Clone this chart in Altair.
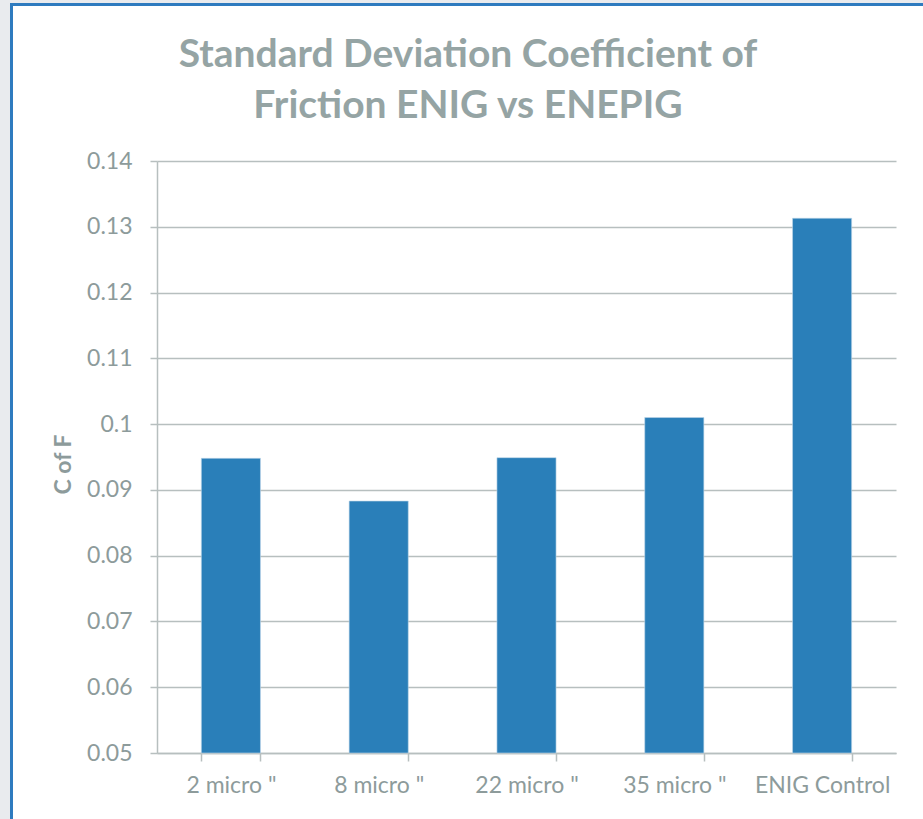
import altair as alt
import pandas as pd

# Categories and standard deviation of the coefficient of friction
categories = ['2 micro "', '8 micro "', '22 micro "', '35 micro "', "ENIG Control"]
std_cof = [0.0948, 0.0883, 0.0949, 0.1010, 0.1313]
y_ticks = [0.05, 0.06, 0.07, 0.08, 0.09, 0.10, 0.11, 0.12, 0.13, 0.14]
title_lines = ["Standard Deviation Coefficient of", "Friction ENIG vs ENEPIG"]
BASE = 0.05

df = pd.DataFrame({"category": categories, "value": std_cof, "base": BASE})

FONT = "Lato"
TEXT_GREY = "#8D9B9B"
TITLE_GREY = "#95A4A4"
LINE_GREY = "#B7BFBF"
BAR_BLUE = "#2A7FB9"
PAGE_GREY = "#E9EBEE"
FRAME_BLUE = "#2E7BBF"

W, H = 739, 592
LEFT, TOP = 157, 161
CW, CH = 923, 819

one = pd.DataFrame({"k": [0]})

# Grey page strips outside the framed panel, and the blue frame edges
left_strip = alt.Chart(one).mark_rect(fill=PAGE_GREY).encode(
    x=alt.value(-LEFT), x2=alt.value(10 - LEFT),
    y=alt.value(-TOP), y2=alt.value(CH - TOP),
)
top_strip = alt.Chart(one).mark_rect(fill=PAGE_GREY).encode(
    x=alt.value(-LEFT), x2=alt.value(CW - LEFT),
    y=alt.value(-TOP), y2=alt.value(3 - TOP),
)
left_edge = alt.Chart(one).mark_rect(fill=FRAME_BLUE).encode(
    x=alt.value(10 - LEFT), x2=alt.value(13 - LEFT),
    y=alt.value(3 - TOP), y2=alt.value(CH - TOP),
)
top_edge = alt.Chart(one).mark_rect(fill=FRAME_BLUE).encode(
    x=alt.value(10 - LEFT), x2=alt.value(CW - LEFT),
    y=alt.value(3 - TOP), y2=alt.value(6 - TOP),
)

# Two-line chart heading, centred on the panel
title_1 = alt.Chart(one).mark_text(
    font=FONT, fontSize=39, fontWeight="bold", color=TITLE_GREY,
    align="center", baseline="alphabetic",
).encode(x=alt.value(468 - LEFT), y=alt.value(67 - TOP), text=alt.value(title_lines[0]))
title_2 = alt.Chart(one).mark_text(
    font=FONT, fontSize=39, fontWeight="bold", color=TITLE_GREY,
    align="center", baseline="alphabetic",
).encode(x=alt.value(468 - LEFT), y=alt.value(118 - TOP), text=alt.value(title_lines[1]))

bars = alt.Chart(df).mark_bar(
    color=BAR_BLUE, stroke="#BFD6EA", strokeWidth=0.6
).encode(
    x=alt.X(
        "category:N",
        sort=categories,
        scale=alt.Scale(paddingInner=0.6, paddingOuter=0.3),
        axis=alt.Axis(
            title=None,
            labelAngle=0,
            labelFont=FONT,
            labelFontSize=23,
            labelColor=TEXT_GREY,
            labelPadding=13,
            tickBand="extent",
            tickSize=8,
            tickColor=LINE_GREY,
            tickWidth=1.5,
            domainColor=LINE_GREY,
            domainWidth=1.5,
            grid=False,
        ),
    ),
    y=alt.Y(
        "value:Q",
        scale=alt.Scale(domain=[0.05, 0.14], zero=False, nice=False),
        axis=alt.Axis(
            title="C of F",
            values=y_ticks,
            format="~g",
            labelFont=FONT,
            labelFontSize=23,
            labelColor=TEXT_GREY,
            labelPadding=18,
            tickSize=7,
            tickColor=LINE_GREY,
            tickWidth=1.5,
            domainColor=LINE_GREY,
            domainWidth=1.5,
            gridColor=LINE_GREY,
            gridWidth=1.5,
            titleFont=FONT,
            titleFontSize=23,
            titleFontWeight="bold",
            titleColor=TEXT_GREY,
            titleAngle=-90,
            titleX=-94,
            titleY=303,
            titleAlign="center",
            titleBaseline="middle",
        ),
    ),
    y2="base:Q",
)

chart = alt.layer(
    left_strip, top_strip, left_edge, top_edge, title_1, title_2, bars
).properties(
    width=W,
    height=H,
    background="white",
    padding={"left": LEFT, "top": TOP, "right": CW - LEFT - W, "bottom": CH - TOP - H},
    autosize=alt.AutoSizeParams(type="none"),
).configure_view(stroke=None)

chart.save("out.html", embed_options={"renderer": "svg", "actions": False})
